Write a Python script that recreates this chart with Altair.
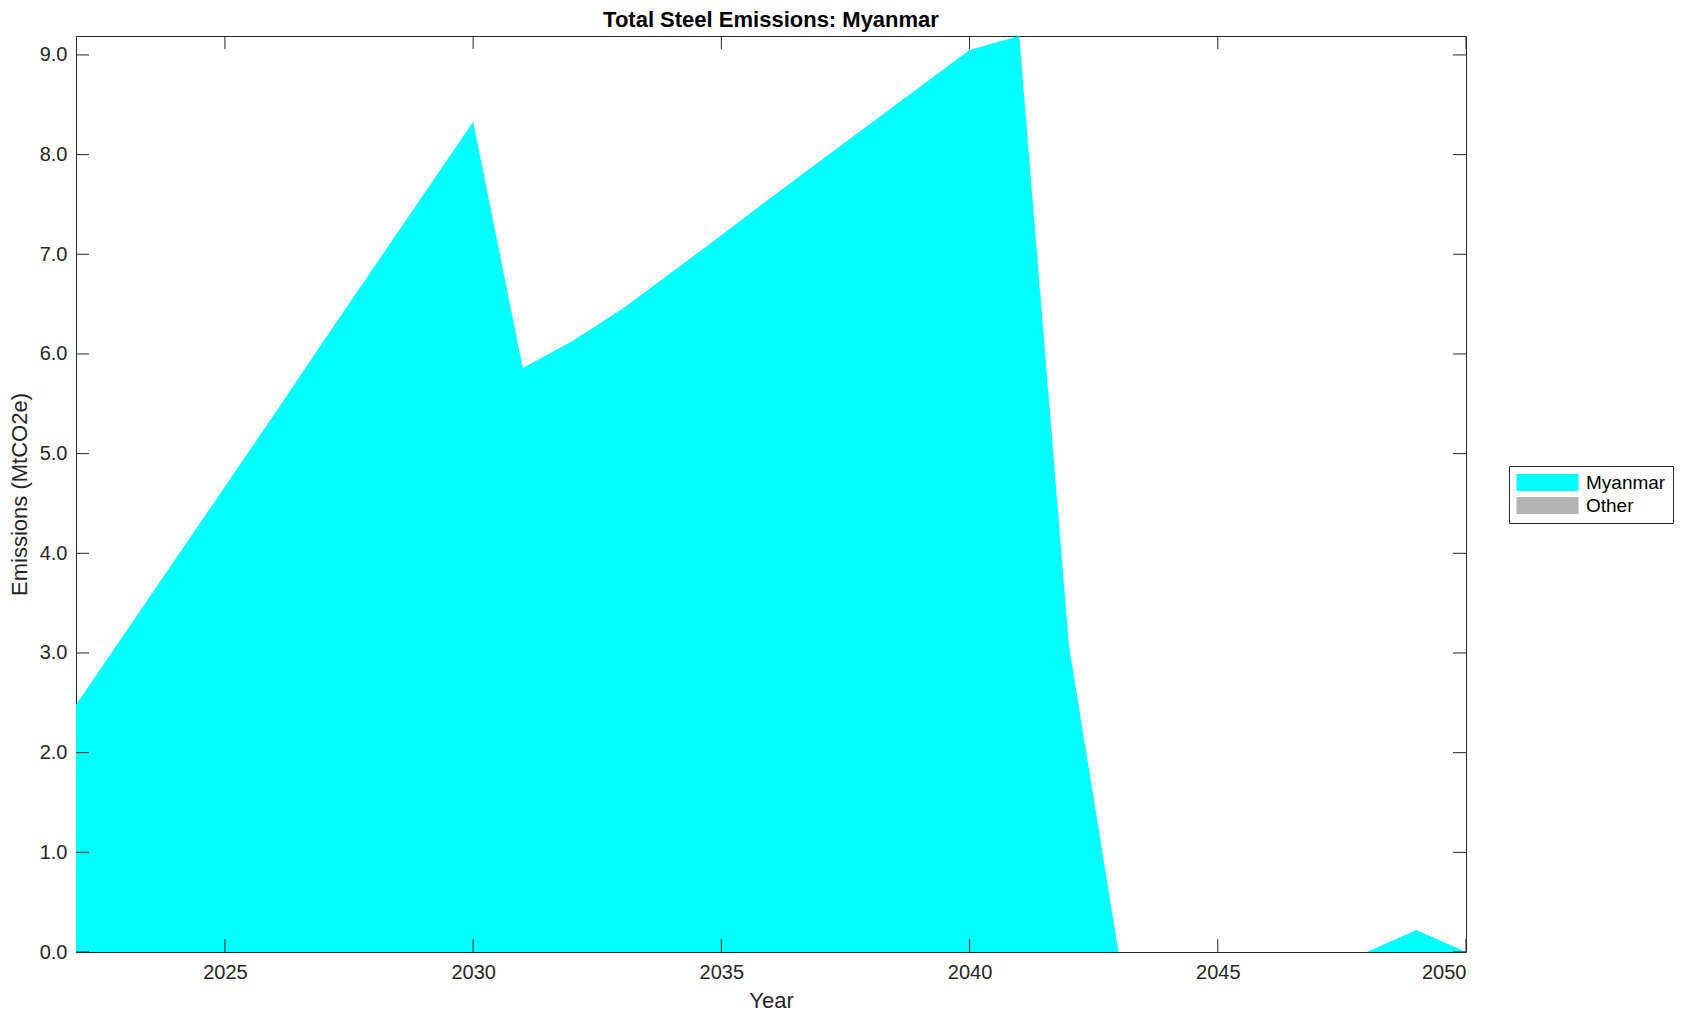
import altair as alt
import pandas as pd

years = list(range(2022, 2051))
myanmar = [2.48, 3.21, 3.94, 4.67, 5.40, 6.14, 6.87, 7.60, 8.33,
           5.86, 6.13, 6.45, 6.82, 7.19, 7.57, 7.94, 8.31, 8.68, 9.05,
           9.19, 3.08, 0.0, 0.0, 0.0, 0.0, 0.0, 0.0, 0.22, 0.0]
other = [0.0] * len(years)
series_names = ["Myanmar", "Other"]
series_colors = ["#00ffff", "#b3b3b3"]
x_ticks = [2025, 2030, 2035, 2040, 2045, 2050]
y_ticks = [0, 1, 2, 3, 4, 5, 6, 7, 8, 9]

rows = []
for i, y in enumerate(years):
    rows.append({"Year": y, "Series": "Myanmar", "Value": myanmar[i], "ord": 0})
    rows.append({"Year": y, "Series": "Other", "Value": other[i], "ord": 1})
df = pd.DataFrame(rows)

W, H = 1390, 916
FONT = "Liberation Sans"
AX = "#262626"

xscale = alt.Scale(domain=[2022, 2050], nice=False, zero=False)
yscale = alt.Scale(domain=[0, 9.19], nice=False)

area = alt.Chart(df).mark_area(interpolate="linear", strokeWidth=0).encode(
    x=alt.X("Year:Q", scale=xscale,
            axis=alt.Axis(values=x_ticks, format="d", title="Year", ticks=False,
                          domain=False, grid=False, labelFontSize=20, labelPadding=10,
                          labelColor=AX, titleColor=AX, titleFontSize=22,
                          titleFontWeight="normal", titlePadding=8, labelFont=FONT,
                          titleFont=FONT)),
    y=alt.Y("Value:Q", stack="zero", scale=yscale,
            axis=alt.Axis(values=y_ticks, format=".1f", title="Emissions (MtCO2e)",
                          ticks=False, domain=False, grid=False, labelFontSize=20,
                          labelPadding=9, labelColor=AX, titleColor=AX, titleFontSize=22,
                          titleFontWeight="normal", titlePadding=8, labelFont=FONT,
                          titleFont=FONT)),
    color=alt.Color("Series:N", scale=alt.Scale(domain=series_names, range=series_colors),
                    legend=alt.Legend(title=None, orient="none", legendX=1433, legendY=430,
                                      symbolType="M-3.65,-1L3.65,-1L3.65,1L-3.65,1Z",
                                      symbolSize=289, symbolStrokeWidth=0,
                                      symbolOffset=22,
                                      labelFontSize=19, labelFont=FONT, labelColor="#000000",
                                      labelOffset=29, padding=7, strokeColor=AX,
                                      fillColor="#ffffff", rowPadding=3,
                                      symbolOpacity=1)),
    order=alt.Order("ord:Q"),
)

xt = pd.DataFrame({"t": x_ticks})
yt = pd.DataFrame({"t": y_ticks})

xtick_bottom = alt.Chart(xt).mark_rule(color=AX, strokeWidth=1).encode(
    x=alt.X("t:Q", scale=xscale), y=alt.value(H), y2=alt.value(H - 13))
xtick_top = alt.Chart(xt).mark_rule(color=AX, strokeWidth=1).encode(
    x=alt.X("t:Q", scale=xscale), y=alt.value(0), y2=alt.value(13))
ytick_left = alt.Chart(yt).mark_rule(color=AX, strokeWidth=1).encode(
    y=alt.Y("t:Q", scale=yscale), x=alt.value(0), x2=alt.value(13))
ytick_right = alt.Chart(yt).mark_rule(color=AX, strokeWidth=1).encode(
    y=alt.Y("t:Q", scale=yscale), x=alt.value(W), x2=alt.value(W - 13))

chart = alt.layer(area, xtick_bottom, xtick_top, ytick_left, ytick_right).properties(
    width=W, height=H,
    title=alt.Title("Total Steel Emissions: Myanmar", fontSize=22, fontWeight="bold",
                    font=FONT, color="#000000", anchor="middle", offset=4),
    autosize=alt.AutoSizeParams(type="none"),
    padding={"left": 68, "top": 28, "right": 209, "bottom": 61},
    background="#ffffff",
).configure_view(stroke=AX, strokeWidth=1)

chart.save("out.html", embed_options={"renderer": "svg", "actions": False})
